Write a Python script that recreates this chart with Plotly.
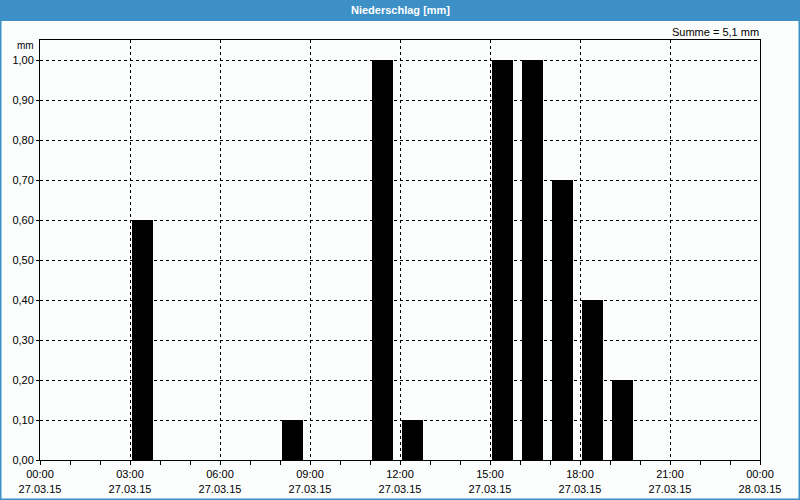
import plotly.graph_objects as go

# Data: hourly precipitation, 27.03.15
hours = [3, 8, 11, 12, 15, 16, 17, 18, 19]
values = [0.6, 0.1, 1.0, 0.1, 1.0, 1.0, 0.7, 0.4, 0.2]
tick_hours = [0, 3, 6, 9, 12, 15, 18, 21, 24]
tick_times = ["00:00", "03:00", "06:00", "09:00", "12:00", "15:00", "18:00", "21:00", "00:00"]
tick_dates = ["27.03.15"] * 8 + ["28.03.15"]
y_ticks = [i / 10 for i in range(11)]
y_labels = [f"{v:.2f}".replace(".", ",") for v in y_ticks]
title_text = "Niederschlag [mm]"
sum_text = "Summe = 5,1 mm"

FONT = "Liberation Sans"
BG = "#fbfdfd"

fig = go.Figure()
fig.add_trace(go.Bar(
    x=hours, y=values,
    width=[0.68] * len(hours),
    offset=0.07,
    marker=dict(color="black", line=dict(width=0)),
    hoverinfo="x+y",
))

fig.update_layout(
    width=800, height=500,
    margin=dict(l=40, r=40, t=40, b=40, autoexpand=False),
    paper_bgcolor=BG, plot_bgcolor=BG,
    showlegend=False,
    font=dict(family=FONT, size=11, color="black"),
    bargap=0,
    xaxis=dict(
        range=[0, 24], tickmode="array", tickvals=tick_hours,
        ticktext=[f"{t}<br>{d}" for t, d in zip(tick_times, tick_dates)],
        showgrid=True, gridcolor="black", gridwidth=1, griddash="3px,3px",
        ticks="outside", ticklen=4, tickcolor="black",
        minor=dict(tickmode="linear", dtick=1, ticks="outside", ticklen=4, tickcolor="black", showgrid=False),
        showline=True, linecolor="black", linewidth=1, mirror=True,
        zeroline=False, fixedrange=True, automargin=False,
        tickfont=dict(family=FONT, size=11, color="black"),
    ),
    yaxis=dict(
        range=[0, 1.05], tickmode="array", tickvals=y_ticks, ticktext=y_labels,
        showgrid=True, gridcolor="black", gridwidth=1, griddash="3px,3px",
        ticks="outside", ticklen=3, tickcolor="black",
        showline=True, linecolor="black", linewidth=1, mirror=True,
        zeroline=False, fixedrange=True, automargin=False,
        tickfont=dict(family=FONT, size=11, color="black"),
    ),
    shapes=[
        dict(type="rect", xref="paper", yref="paper", x0=-0.06, x1=1.06, y0=1 + 19/420, y1=1 + 41/420,
             fillcolor="#3c90c6", line=dict(width=0), layer="below"),
        dict(type="line", xref="paper", yref="paper", x0=-39.5/720, x1=-39.5/720, y0=-40/420, y1=1 + 40/420,
             line=dict(color="#3c90c6", width=2)),
        dict(type="line", xref="paper", yref="paper", x0=1 + 39.5/720, x1=1 + 39.5/720, y0=-40/420, y1=1 + 40/420,
             line=dict(color="#3c90c6", width=2)),
        dict(type="line", xref="paper", yref="paper", x0=-40/720, x1=1 + 40/720, y0=-39.5/420, y1=-39.5/420,
             line=dict(color="#3c90c6", width=2)),
    ],
    annotations=[
        dict(text=f"<b>{title_text}</b>", xref="paper", yref="paper", x=0.5, y=1 + 30/420,
             showarrow=False, xanchor="center", yanchor="middle",
             font=dict(family=FONT, size=11, color="white")),
        dict(text=sum_text, xref="paper", yref="paper", x=1 + 1/720, y=1 + 8/420,
             showarrow=False, xanchor="right", yanchor="middle",
             font=dict(family=FONT, size=11, color="black")),
        dict(text="mm", xref="paper", yref="paper", x=-4/720, y=1 - 6/420,
             showarrow=False, xanchor="right", yanchor="middle",
             font=dict(family=FONT, size=10, color="black")),
    ],
)

fig.write_html("out.html")
